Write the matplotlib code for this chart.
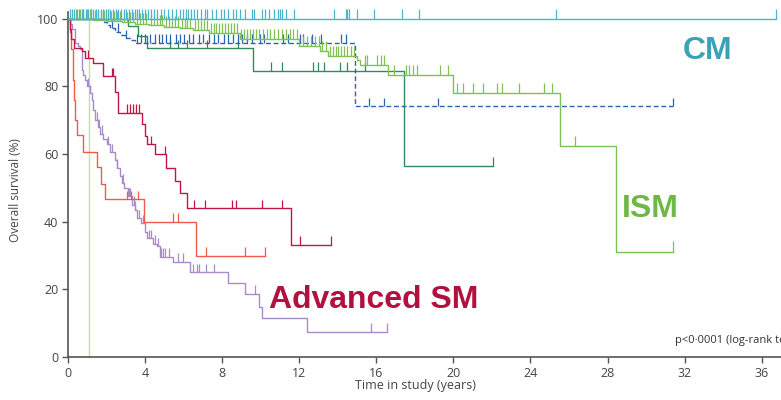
import matplotlib
matplotlib.use('Agg')
import matplotlib.pyplot as plt
import numpy as np

# Kaplan-Meier step data (years, % surviving)
cm_t = [0, 36.74]
cm_s = [100, 100]
cm_cens = [0.1, 0.2, 0.3, 0.45, 0.55, 0.7, 0.8, 0.95, 1.05, 1.2, 1.3, 1.45, 1.55, 1.7, 1.8, 1.95,
           2.1, 2.2, 2.35, 2.5, 2.6, 2.75, 2.9, 3.0, 3.15, 3.3, 3.45, 3.6, 3.7, 3.85, 4.0, 4.15,
           4.3, 4.45, 4.6, 4.8, 5.0, 5.2, 5.4, 5.6, 5.8, 5.95, 6.1, 6.25, 6.4, 6.55, 6.7, 6.9,
           7.1, 7.2, 7.45, 7.7, 7.95, 8.1, 8.3, 8.55, 8.7, 8.95, 9.2, 9.53, 9.65, 10.05, 10.22,
           10.45, 10.69, 10.91, 11.0, 11.09, 11.31, 11.73, 13.82, 14.43, 14.49, 14.58, 15.01,
           15.89, 17.32, 18.21, 25.3, 36.74]

ism_t = [0, 1.3, 2.0, 2.8, 3.5, 4.2, 5.0, 5.8, 6.5, 7.3, 8.9, 12.0, 13.1, 13.5, 15.0, 15.15,
         16.6, 20.0, 25.53, 28.44, 31.41]
ism_s = [100, 99.7, 99.4, 99.0, 98.6, 98.2, 97.7, 97.2, 96.7, 95.8, 94.0, 91.9, 90.4, 88.9,
         87.8, 86.4, 83.5, 78.0, 62.5, 31.2, 31.2]
ism_cens = [0.4, 0.6, 0.8, 1.0, 1.15, 1.4, 1.55, 1.7, 1.85, 2.1, 2.25, 2.4, 2.55, 2.7, 2.9,
            3.05, 3.2, 3.35, 3.6, 3.75, 3.9, 4.05, 4.3, 4.45, 4.6, 4.75, 4.9, 5.1, 5.25, 5.4,
            5.55, 5.7, 5.9, 6.05, 6.2, 6.35, 6.6, 6.75, 6.9, 7.05, 7.2, 7.4, 7.55, 7.7, 7.85,
            8.0, 8.15, 8.3, 8.45, 8.6, 8.75, 9.0, 9.15, 9.3, 9.45, 9.6, 9.75, 9.9, 10.1, 10.3,
            10.5, 10.7, 10.9, 11.1, 11.3, 11.5, 11.7, 11.9, 12.2, 12.4, 12.6, 12.8, 13.0, 13.2,
            13.4, 13.6, 13.75, 13.9, 14.0, 14.15, 14.3, 14.5, 14.7, 14.85, 15.41, 15.53, 16.05,
            16.23, 16.4, 16.92, 17.54, 17.71, 17.92, 18.1, 19.3, 19.74, 20.17, 20.51, 21.0,
            21.52, 22.25, 22.54, 23.42, 24.72, 25.13, 26.31, 31.41]

ssm_t = [0, 3.13, 3.65, 4.08, 9.6, 17.45, 22.05]
ssm_s = [100, 97.8, 95, 91.3, 84.7, 56.5, 56.5]
ssm_cens = [5.29, 5.7, 6.2, 7.2, 8.84, 10.52, 11.12, 12.73, 12.99, 13.28, 14.11, 14.49, 15.41, 22.05]

bmm_t = [0, 1.85, 2.0, 2.2, 2.45, 2.7, 2.95, 3.2, 3.5, 14.9, 31.41]
bmm_s = [100, 99, 98.2, 97.2, 96.2, 95.3, 94.3, 93.8, 93.0, 74.1, 74.1]
bmm_cens = [2.3, 2.6, 3.0, 3.6, 3.8, 4.0, 4.25, 4.5, 4.7, 4.9, 5.1, 5.3, 5.6, 5.8, 6.0, 6.3,
            6.5, 6.8, 7.0, 7.3, 7.55, 7.8, 8.1, 8.3, 8.55, 8.8, 9.05, 9.3, 9.53, 9.96, 10.17,
            11.17, 11.43, 12.04, 12.21, 12.64, 13.11, 14.15, 14.43, 15.62, 16.41, 19.22, 31.41]

asm_t = [0, 0.08, 0.15, 0.3, 0.71, 0.88, 1.31, 1.83, 2.44, 2.61, 3.85, 4.0, 4.1, 4.5, 5.1,
         5.55, 5.8, 6.15, 11.57, 13.63]
asm_s = [100, 97, 94, 91.3, 90.4, 88.4, 86.9, 83, 78.5, 72.3, 69, 65.5, 63, 60, 56, 52,
         48.5, 44, 33.2, 33.2]
asm_cens = [1.04, 2.27, 2.34, 3.04, 3.2, 3.36, 3.52, 3.68, 4.3, 5.03, 6.54, 7.13, 8.53, 8.72,
            10.05, 11.12, 12.04, 13.63]

mcl_t = [0, 0.08, 0.15, 0.25, 0.3, 0.35, 0.45, 0.79, 1.52, 1.7, 1.92, 3.95, 6.64, 10.2]
mcl_s = [100, 96, 91, 82, 76, 70, 65.7, 60.5, 56.3, 51.2, 46.7, 40, 30, 30]
mcl_cens = [3.05, 3.27, 3.65, 5.45, 5.7, 7.15, 9.2, 10.2]

ahn_t = [0, 0.1, 0.2, 0.35, 0.5, 0.6, 0.7, 0.8, 0.88, 1.0, 1.12, 1.23, 1.32, 1.4, 1.55, 1.66,
         1.8, 2.0, 2.2, 2.44, 2.55, 2.7, 2.8, 2.9, 3.1, 3.3, 3.45, 3.6, 3.8, 4.0, 4.1, 4.4,
         4.6, 4.75, 5.43, 6.33, 8.32, 9.2, 9.9, 10.05, 12.42, 16.54]
ahn_s = [100, 98.5, 97, 93, 92, 91, 85, 83.5, 82, 80, 78, 76, 73, 70, 68, 66, 64.5, 63, 60.5,
         58.3, 56, 53.4, 51.5, 50, 47.5, 45, 43.5, 41, 39.6, 37, 35.1, 33.5, 32.7, 29.7, 28.2,
         25, 21.8, 18.7, 14.9, 11.5, 7.5, 7.5]
ahn_cens = [1.05, 1.15, 1.5, 1.6, 1.75, 2.1, 2.3, 2.55, 2.85, 3.15, 3.2, 3.4, 3.5, 3.7, 3.9,
            4.2, 4.3, 4.5, 4.65, 4.85, 4.95, 5.05, 5.25, 5.72, 5.95, 6.47, 6.68, 6.81, 7.14,
            7.59, 9.7, 15.7, 16.54]

mcs_t = [0, 1.11, 1.11]
mcs_s = [100, 100, 0]

series = [
    (mcs_t, mcs_s, [], '#c3e09c', '-', 2.5),
    (ahn_t, ahn_s, ahn_cens, '#a88bc8', '-', 2.5),
    (mcl_t, mcl_s, mcl_cens, '#f25a4c', '-', 2.5),
    (asm_t, asm_s, asm_cens, '#c21745', '-', 2.5),
    (ssm_t, ssm_s, ssm_cens, '#2f8a5c', '-', 2.5),
    (bmm_t, bmm_s, bmm_cens, '#2b64b0', '--', 2.5),
    (ism_t, ism_s, ism_cens, '#7fc251', '-', 3.0),
    (cm_t, cm_s, cm_cens, '#4bb4d0', '-', 3.0),
]

fig = plt.figure(figsize=(7.81, 4.0), dpi=100)
ax = fig.add_axes([0.0871, 0.1075, 0.9129, 0.88])

for z, (t, s, cens, color, ls, h) in enumerate(series):
    line, = ax.step(t, s, where='post', color=color, lw=1.0, zorder=2 + z, clip_on=False)
    if ls == '--':
        line.set_dashes((3.5, 2))
    if cens:
        idx = np.searchsorted(t, cens, side='right') - 1
        y = np.asarray(s)[np.clip(idx, 0, len(s) - 1)]
        ax.vlines(cens, y, y + h, color=color, lw=0.9, zorder=2 + z, clip_on=False)

ax.set_xlim(0, 37.0)
ax.set_ylim(0, 104.1)
ax.set_xticks(range(0, 37, 4))
ax.set_yticks(range(0, 101, 20))

for side in ('top', 'right'):
    ax.spines[side].set_visible(False)
for side in ('left', 'bottom'):
    ax.spines[side].set_color('#555555')
    ax.spines[side].set_linewidth(1.2)
ax.spines['left'].set_bounds(0, 102)
ax.tick_params(colors='#555555', length=4, width=1.0, labelsize=9, pad=3,
               labelcolor='#444444')
for lab in ax.get_xticklabels() + ax.get_yticklabels():
    lab.set_family('Open Sans')

ax.set_ylabel('Overall survival (%)', fontsize=8.5, color='#444444', family='Open Sans')
ax.yaxis.set_label_coords(-0.0645, 0.474)
ax.set_xlabel('Time in study (years)', fontsize=9, color='#444444', family='Open Sans')
ax.xaxis.set_label_coords(0.487, -0.062)

big = dict(fontsize=23, fontweight='bold', family='Liberation Sans', ha='center', va='center')
ax.text(33.2, 90.4, 'CM', color='#3ba1b6', **big)
ax.text(30.2, 43.9, 'ISM', color='#6db847', **big)
ax.text(15.85, 16.9, 'Advanced SM', color='#b3103e', **big)
ax.text(31.5, 4.8, 'p<0\u00b70001 (log-rank test)', fontsize=8, color='#333333',
        family='Open Sans', ha='left', va='center', clip_on=False)

fig.savefig('out.png', dpi=100)
